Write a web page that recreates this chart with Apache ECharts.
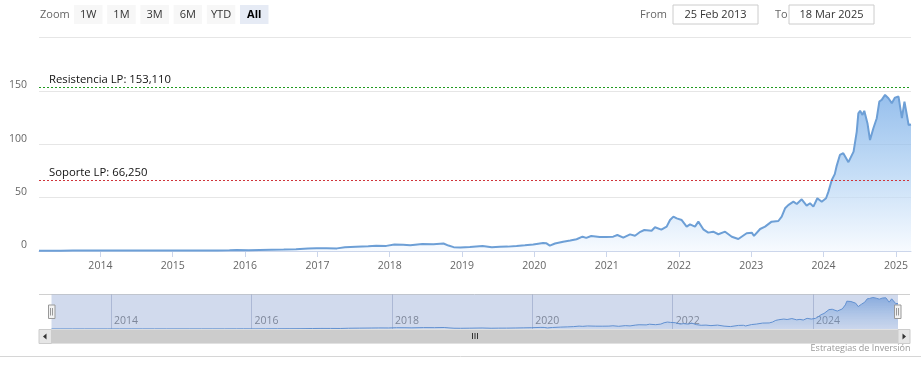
<!DOCTYPE html>
<html><head><meta charset="utf-8">
<script src="https://cdn.jsdelivr.net/npm/echarts@6/dist/echarts.min.js"></script>
<style>html,body{margin:0;padding:0;background:#fff}#c{width:921px;height:373px}</style>
</head><body><div id="c"></div>
<script>
const dates = ['2013-02-25','2013-04-15','2013-06-15','2013-08-15','2013-10-15','2013-12-15','2014-02-15','2014-04-15','2014-06-15','2014-08-15','2014-10-15','2014-12-15','2015-02-15','2015-04-15','2015-06-15','2015-08-15','2015-10-15','2015-11-20','2016-01-20','2016-03-15','2016-05-15','2016-07-15','2016-09-15','2016-11-15','2016-12-28','2017-02-15','2017-04-10','2017-05-20','2017-07-15','2017-09-15','2017-10-25','2017-12-15','2018-01-25','2018-03-10','2018-04-15','2018-06-15','2018-08-10','2018-09-30','2018-10-25','2018-11-20','2018-12-24','2019-02-10','2019-04-15','2019-06-01','2019-07-11','2019-08-20','2019-10-04','2019-11-15','2019-12-27','2020-02-15','2020-03-03','2020-03-20','2020-04-15','2020-05-26','2020-07-01','2020-08-02','2020-09-01','2020-09-20','2020-10-15','2020-11-27','2020-12-30','2021-02-03','2021-02-24','2021-03-26','2021-04-29','2021-05-24','2021-06-20','2021-07-10','2021-08-16','2021-09-02','2021-10-04','2021-10-31','2021-11-17','2021-12-04','2021-12-21','2022-01-15','2022-02-09','2022-02-26','2022-03-23','2022-04-09','2022-05-04','2022-05-29','2022-06-23','2022-07-19','2022-08-22','2022-09-25','2022-10-28','2022-12-09','2023-01-04','2023-01-15','2023-02-15','2023-03-12','2023-04-14','2023-05-18','2023-06-04','2023-06-21','2023-07-07','2023-08-02','2023-08-19','2023-09-13','2023-10-08','2023-10-25','2023-11-11','2023-12-01','2023-12-23','2024-01-14','2024-01-26','2024-02-12','2024-02-27','2024-03-08','2024-03-24','2024-04-10','2024-05-06','2024-06-01','2024-06-17','2024-06-25','2024-07-04','2024-07-16','2024-07-25','2024-08-10','2024-08-23','2024-09-09','2024-09-26','2024-10-09','2024-10-21','2024-11-07','2024-11-24','2024-12-11','2024-12-27','2025-01-14','2025-01-31','2025-02-13','2025-02-18','2025-03-06','2025-03-18'];
const prices = [0.31,0.32,0.35,0.39,0.38,0.40,0.47,0.45,0.47,0.48,0.45,0.51,0.55,0.55,0.51,0.55,0.70,0.82,0.65,0.88,1.10,1.35,1.65,2.30,2.65,2.60,2.45,3.50,4.00,4.50,5.00,4.80,6.00,5.80,5.30,6.50,6.30,7.00,5.10,3.60,3.30,3.80,4.70,3.50,4.00,4.10,4.70,5.30,6.00,7.40,7.20,5.00,7.00,8.70,9.80,11.0,13.4,12.3,14.1,13.1,13.0,13.4,15.0,12.5,15.6,14.3,18.0,19.7,19.0,22.2,20.0,22.8,29.0,32.2,30.6,29.0,22.8,25.0,22.8,27.5,20.3,17.2,18.1,15.7,18.1,13.4,11.2,16.6,17.2,14.1,20.6,22.8,27.5,28.1,32.2,40.0,43.0,46.2,44.0,48.4,42.5,44.7,41.6,49.4,46.2,49.4,55.6,66.5,72.0,80.0,90.0,91.6,83.2,93.1,111.9,129.0,131.3,127.5,131.3,119.7,104.0,115.0,124.4,140.0,141.6,146.2,143.1,138.5,143.7,144.7,124.4,140.0,138.5,118.0,118.5];
const startDate = '2013-02-25', endDate = '2025-03-18';
const yearTicks = [2014,2015,2016,2017,2018,2019,2020,2021,2022,2023,2024,2025];
const navYearTicks = [2014,2016,2018,2020,2022,2024];
const yMin = 0, yMax = 200, yInterval = 50;
const resistance = 153.11, support = 66.25;
const resistanceLabel = 'Resistencia LP: 153,110';
const supportLabel = 'Soporte LP: 66,250';
const zoomLabel = 'Zoom';
const zoomButtons = ['1W','1M','3M','6M','YTD','All'];
const fromLabel = 'From', toLabel = 'To';
const fromDate = '25 Feb 2013', toDate = '18 Mar 2025';
const credit = 'Estrategias de Inversión';

function ts(s){const p=s.split('-').map(Number);return Date.UTC(p[0],p[1]-1,p[2]);}
const seriesData = dates.map((d,i)=>[ts(d),prices[i]]);
const yearTs = yearTicks.map(y=>Date.UTC(y,0,1));
const navTs = navYearTicks.map(y=>Date.UTC(y,0,1));
const yearFmt = v => String(new Date(v).getUTCFullYear());
const FONT = '"Open Sans", "DejaVu Sans", sans-serif';

const graphics = [];
graphics.push({type:'text',x:40,y:14.5,style:{text:zoomLabel,fill:'#666',font:'11px '+FONT,verticalAlign:'middle'}});
zoomButtons.forEach((b,i)=>{
  const x = 74 + i*33.2, sel = b==='All';
  graphics.push({type:'rect',shape:{x:x,y:5,width:28.5,height:19},style:{fill:sel?'#e6ebf5':'#f7f7f7'}});
  graphics.push({type:'text',x:x+14.25,y:14.5,style:{text:b,fill:sel?'#000':'#333',font:(sel?'bold ':'')+'11px '+FONT,align:'center',verticalAlign:'middle'}});
});
graphics.push({type:'text',x:640,y:14.5,style:{text:fromLabel,fill:'#666',font:'11px '+FONT,verticalAlign:'middle'}});
graphics.push({type:'rect',shape:{x:673,y:5,width:85,height:19},style:{fill:'#fff',stroke:'#cccccc',lineWidth:1}});
graphics.push({type:'text',x:715.5,y:14.5,style:{text:fromDate,fill:'#333',font:'11px '+FONT,align:'center',verticalAlign:'middle'}});
graphics.push({type:'text',x:775,y:14.5,style:{text:toLabel,fill:'#666',font:'11px '+FONT,verticalAlign:'middle'}});
graphics.push({type:'rect',shape:{x:789,y:5,width:85,height:19},style:{fill:'#fff',stroke:'#cccccc',lineWidth:1}});
graphics.push({type:'text',x:831.5,y:14.5,style:{text:toDate,fill:'#333',font:'11px '+FONT,align:'center',verticalAlign:'middle'}});
graphics.push({type:'line',shape:{x1:39,y1:294.5,x2:910,y2:294.5},style:{stroke:'#d0d0d0',lineWidth:1}});
graphics.push({type:'rect',z:5,shape:{x:51.5,y:294.5,width:846.5,height:34.5},style:{fill:'rgba(102,133,194,0.3)'}});
graphics.push({type:'rect',z:6,shape:{x:39,y:329.5,width:871,height:14},style:{fill:'#f2f2f2'}});
graphics.push({type:'rect',z:6,shape:{x:51.5,y:329.5,width:846.5,height:14},style:{fill:'#cccccc'}});
graphics.push({type:'rect',z:6,shape:{x:39,y:329.5,width:12.5,height:14},style:{fill:'#e6e6e6',stroke:'#cccccc',lineWidth:1}});
graphics.push({type:'rect',z:6,shape:{x:898,y:329.5,width:12,height:14},style:{fill:'#e6e6e6',stroke:'#cccccc',lineWidth:1}});
graphics.push({type:'polygon',z:7,shape:{points:[[46.5,333.5],[46.5,339.5],[43,336.5]]},style:{fill:'#333'}});
graphics.push({type:'polygon',z:7,shape:{points:[[902.5,333.5],[902.5,339.5],[906,336.5]]},style:{fill:'#333'}});
[472.5,475,477.5].forEach(x=>graphics.push({type:'line',z:7,shape:{x1:x,y1:333,x2:x,y2:339},style:{stroke:'#333',lineWidth:1}}));
[[48.5,50.5,52.5],[894.5,896.5,898.5]].forEach(h=>{
  graphics.push({type:'rect',z:8,shape:{x:h[0],y:305,width:6.5,height:13.5},style:{fill:'#f2f2f2',stroke:'#999',lineWidth:1}});
  graphics.push({type:'line',z:8,shape:{x1:h[1],y1:308,x2:h[1],y2:315.5},style:{stroke:'#999',lineWidth:1}});
  graphics.push({type:'line',z:8,shape:{x1:h[2],y1:308,x2:h[2],y2:315.5},style:{stroke:'#999',lineWidth:1}});
});
graphics.push({type:'line',shape:{x1:0,y1:356.5,x2:921,y2:356.5},style:{stroke:'#d6d6d6',lineWidth:1}});
graphics.push({type:'text',x:910.5,y:348.5,style:{text:credit,fill:'#999',font:'9px '+FONT,align:'right',verticalAlign:'middle'}});

const chart = echarts.init(document.getElementById('c'), null, {renderer:'canvas'});
chart.setOption({
  animation:false,
  textStyle:{fontFamily:FONT},
  grid:[
    {left:39,right:10,top:37.5,height:213.5},
    {left:51.5,right:23,top:294.5,height:34.5}
  ],
  xAxis:[
    {type:'value',gridIndex:0,min:ts(startDate),max:ts(endDate),
     axisLine:{show:true,onZero:false,lineStyle:{color:'#ccd6eb',width:1}},
     axisTick:{show:true,customValues:yearTs,length:6,lineStyle:{color:'#ccd6eb'}},
     axisLabel:{customValues:yearTs,formatter:yearFmt,color:'#666',fontSize:10.5,margin:10,hideOverlap:false,showMinLabel:true,showMaxLabel:true},
     splitLine:{show:false}},
    {type:'value',gridIndex:1,min:ts(startDate),max:ts(endDate),
     axisLine:{show:false,onZero:false},
     axisTick:{show:true,customValues:navTs,inside:true,length:34.5,lineStyle:{color:'rgba(150,160,185,0.5)'}},
     axisLabel:{customValues:navTs,formatter:yearFmt,inside:true,align:'left',verticalAlign:'bottom',margin:2,padding:[0,0,0,3],color:'#888',fontSize:10.5},
     splitLine:{show:false}}
  ],
  yAxis:[
    {type:'value',gridIndex:0,min:yMin,max:yMax,interval:yInterval,
     axisLine:{show:false},axisTick:{show:false},
     axisLabel:{color:'#666',fontSize:10.5,margin:12,verticalAlign:'bottom',formatter:v=>v===yMax?'':String(v)},
     splitLine:{lineStyle:{color:'#e6e6e6',width:1}}},
    {type:'value',gridIndex:1,min:0,max:160,show:false,splitLine:{show:false}}
  ],
  series:[
    {type:'line',xAxisIndex:0,yAxisIndex:0,data:seriesData,showSymbol:false,smooth:false,
     lineStyle:{color:'#6d9fd6',width:2},
     areaStyle:{color:new echarts.graphic.LinearGradient(0,0,0,1,[{offset:0,color:'#6aa4e4'},{offset:0.5,color:'#abcef2'},{offset:1,color:'#f3f8fe'}])},
     markLine:{silent:true,symbol:['none','none'],
       data:[
        {yAxis:resistance,lineStyle:{color:'#1f9a1f',type:[2,2],width:1.2},label:{formatter:resistanceLabel}},
        {yAxis:support,lineStyle:{color:'#d0343a',type:[2,2],width:1.2},label:{formatter:supportLabel}}
       ],
       label:{show:true,position:'insideStartTop',distance:[10,2],color:'#111',fontSize:11.3}}},
    {type:'line',xAxisIndex:1,yAxisIndex:1,data:seriesData,showSymbol:false,
     lineStyle:{color:'#5f95d6',width:1},
     areaStyle:{color:new echarts.graphic.LinearGradient(0,0,0,1,[{offset:0,color:'rgba(95,150,220,0.9)'},{offset:1,color:'rgba(124,181,236,0.1)'}])}}
  ],
  graphic:{elements:graphics}
});
</script></body></html>
